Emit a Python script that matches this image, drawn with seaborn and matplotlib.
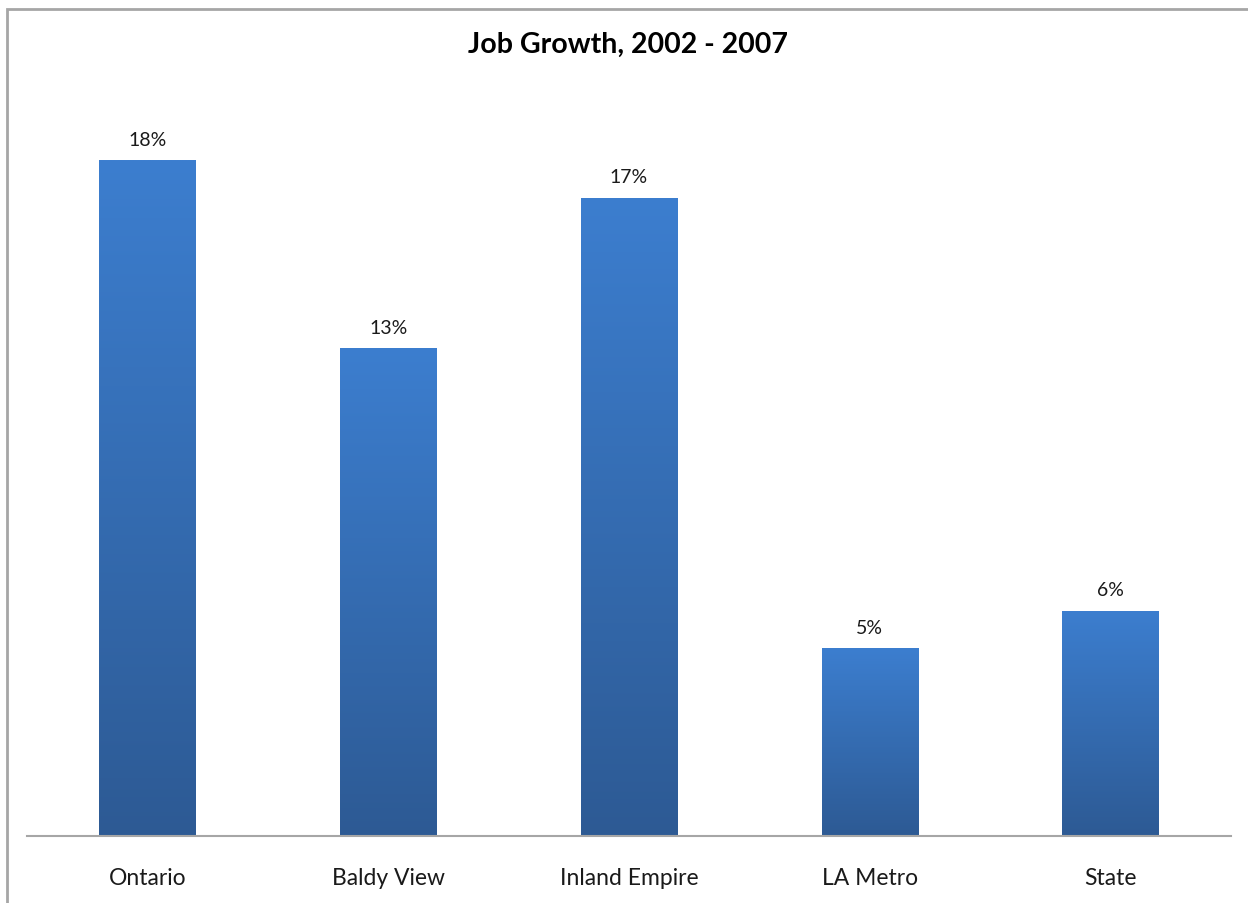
import matplotlib
matplotlib.use("Agg")
import matplotlib.pyplot as plt
import seaborn as sns
import numpy as np
import pandas as pd
from matplotlib.colors import LinearSegmentedColormap
from matplotlib.patches import Rectangle

categories = ["Ontario", "Baldy View", "Inland Empire", "LA Metro", "State"]
growth = [18, 13, 17, 5, 6]
value_labels = ["18%", "13%", "17%", "5%", "6%"]
title = "Job Growth, 2002 - 2007"

sns.set_theme(style="white")
plt.rcParams["font.family"] = ["Lato", "DejaVu Sans"]

W, H = 1248, 904
fig = plt.figure(figsize=(W / 100, H / 100), dpi=100)
fig.patch.set_facecolor("white")

ax = fig.add_axes([27 / W, (H - 837) / H, (1231 - 27) / W, (837 - 86) / H])
df = pd.DataFrame({"region": categories, "growth": growth})
sns.barplot(data=df, x="region", y="growth", ax=ax, width=0.4,
            color="#3470b8", saturation=1, edgecolor="none")
ax.set_ylim(0, 20)
ax.set_xlim(-0.5, len(categories) - 0.5)

cmap = LinearSegmentedColormap.from_list("grad", ["#2d5a94", "#3c7ecf"])
grad = np.linspace(0, 1, 256).reshape(-1, 1)
for bar, lab in zip(ax.patches, value_labels):
    x0, w = bar.get_x(), bar.get_width()
    h = bar.get_height()
    bar.set_facecolor("none")
    im = ax.imshow(grad, extent=[x0, x0 + w, 0, h], origin="lower",
                   cmap=cmap, aspect="auto", zorder=2)
    im.set_clip_path(bar)
    ax.annotate(lab, (x0 + w / 2, h), xytext=(0, 15), textcoords="offset points",
                ha="center", va="center", fontsize=14, color="#1a1a1a")

ax.set_xlim(-0.5, len(categories) - 0.5)
ax.set_ylim(0, 20)
ax.set_xlabel("")
ax.set_ylabel("")
ax.set_yticks([])
ax.tick_params(axis="x", length=0, pad=22, labelsize=16.5, colors="#1a1a1a")
for s in ["top", "right", "left"]:
    ax.spines[s].set_visible(False)
ax.spines["bottom"].set_color("#a6a6a6")
ax.spines["bottom"].set_linewidth(1.5)
ax.set_facecolor("none")

fig.text(628 / W, 1 - 45 / H, title, ha="center", va="center",
         fontsize=20.5, fontweight="bold", color="black")

fig.patches.append(Rectangle((7 / W, -0.1), 1.2, 1.1 - 10 / H,
                             transform=fig.transFigure, fill=False,
                             edgecolor="#a6a6a6", linewidth=2))

fig.savefig("out.png", dpi=100, facecolor="white")
